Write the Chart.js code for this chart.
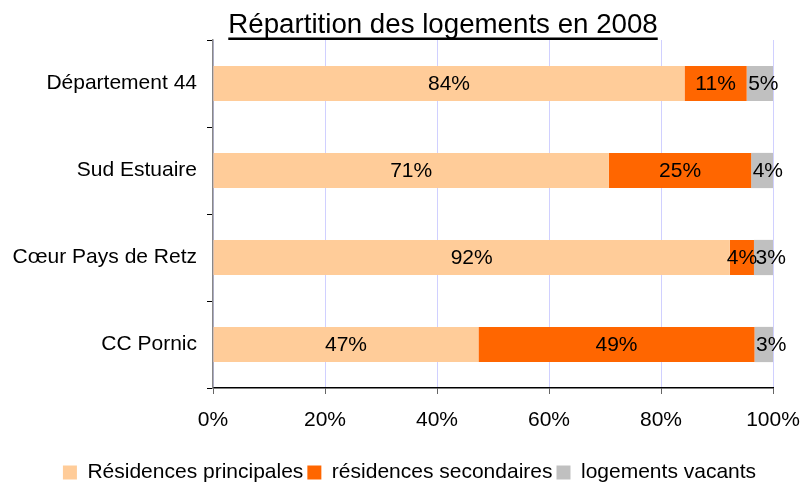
<!DOCTYPE html>
<html>
<head>
<meta charset="utf-8">
<script src="https://cdn.jsdelivr.net/npm/chart.js@4/dist/chart.umd.min.js"></script>
<style>
  body { margin: 0; background: #fff; }
  #holder { width: 802px; height: 486px; }
</style>
</head>
<body>
<div id="holder"><canvas id="chartHolder"></canvas></div>
<script>
const chartHolder = document.getElementById("chartHolder");

const titleText = "Répartition des logements en 2008";
const categories = ["Département 44", "Sud Estuaire", "Cœur Pays de Retz", "CC Pornic"];
const principales = [84.2, 70.7, 92.3, 47.4];
const secondaires = [11.1, 25.4, 4.3, 49.3];
const vacants = [4.7, 3.9, 3.4, 3.3];
const seriesNames = ["Résidences principales", "résidences secondaires", "logements vacants"];
const xTicks = [0, 20, 40, 60, 80, 100];

const font = "'Liberation Sans', Arial, sans-serif";

// title with underline, drawn by hand
const titlePlugin = {
    id: "titlePlugin",
    afterDraw(chart)
    {
        const ctx = chart.ctx;
        ctx.save();
        ctx.font = "27.7px " + font;
        ctx.fillStyle = "#000";
        ctx.textAlign = "center";
        ctx.textBaseline = "alphabetic";
        const cx = 443;
        ctx.fillText(titleText, cx, 33);
        const w = ctx.measureText(titleText).width;
        ctx.fillRect(cx - w / 2, 37.5, w, 2.5);
        ctx.restore();
    }
};

// legend in the original sits a bit right of centre
const legendShift = {
    id: "legendShift",
    afterLayout(chart)
    {
        chart.legend.left += 23;
        chart.legend.right += 23;
    }
};

// percentage labels in the middle of each segment
// (last series: when the text is wider than the segment it starts at the segment's left edge)
const labelPlugin = {
    id: "labelPlugin",
    afterDatasetsDraw(chart)
    {
        const ctx = chart.ctx;
        const last = chart.data.datasets.length - 1;
        ctx.save();
        ctx.font = "21px " + font;
        ctx.fillStyle = "#000";
        ctx.textBaseline = "middle";
        chart.data.datasets.forEach((ds, i) => {
            const meta = chart.getDatasetMeta(i);
            meta.data.forEach((bar, j) => {
                const p = bar.getProps(["x", "y", "base"], true);
                const txt = Math.round(ds.data[j]) + "%";
                const tw = ctx.measureText(txt).width;
                if (i === last && tw > p.x - p.base + 2)
                {
                    ctx.textAlign = "left";
                    ctx.fillText(txt, p.base + 1.5, p.y + 1);
                }
                else
                {
                    ctx.textAlign = "center";
                    ctx.fillText(txt, (p.x + p.base) / 2, p.y + 1);
                }
            });
        });
        ctx.restore();
    }
};

new Chart(chartHolder, {
    type: "bar",
    data: {
        labels: categories,
        datasets: [
            {label: seriesNames[0], data: principales, backgroundColor: "#FFCC99"},
            {label: seriesNames[1], data: secondaires, backgroundColor: "#FF6600"},
            {label: seriesNames[2], data: vacants, backgroundColor: "#C0C0C0"}
        ]
    },
    options: {
        indexAxis: "y",
        responsive: true,
        maintainAspectRatio: false,
        animation: false,
        layout: {padding: {top: 40, right: 29, left: 0, bottom: -7}},
        datasets: {bar: {categoryPercentage: 1, barPercentage: 0.405}},
        plugins: {
            legend: {
                position: "bottom",
                labels: {
                    font: {family: font, size: 21},
                    color: "#000",
                    boxWidth: 14,
                    boxHeight: 14,
                    padding: 4
                }
            },
            tooltip: {enabled: false}
        },
        scales: {
            x: {
                stacked: true,
                min: 0,
                max: 100,
                afterBuildTicks: scale => { scale.ticks = xTicks.map(v => ({value: v})); },
                afterFit: scale => {
                    scale.height = 70;
                    scale.paddingLeft = 0;
                    scale.paddingRight = 0;
                },
                ticks: {
                    callback: v => v + "%",
                    font: {family: font, size: 21},
                    color: "#000",
                    padding: 14,
                    maxRotation: 0
                },
                grid: {color: "#d0d0ff", tickColor: "#666", tickLength: 6},
                border: {color: "#000", width: 1.5}
            },
            y: {
                stacked: true,
                afterFit: scale => { scale.width = 213; },
                ticks: {
                    font: {family: font, size: 21},
                    color: "#000",
                    padding: 10
                },
                grid: {offset: true, drawOnChartArea: false, tickColor: "#000", tickLength: 6},
                border: {color: "#888", width: 1.5}
            }
        }
    },
    plugins: [titlePlugin, legendShift, labelPlugin]
});
</script>
</body>
</html>
